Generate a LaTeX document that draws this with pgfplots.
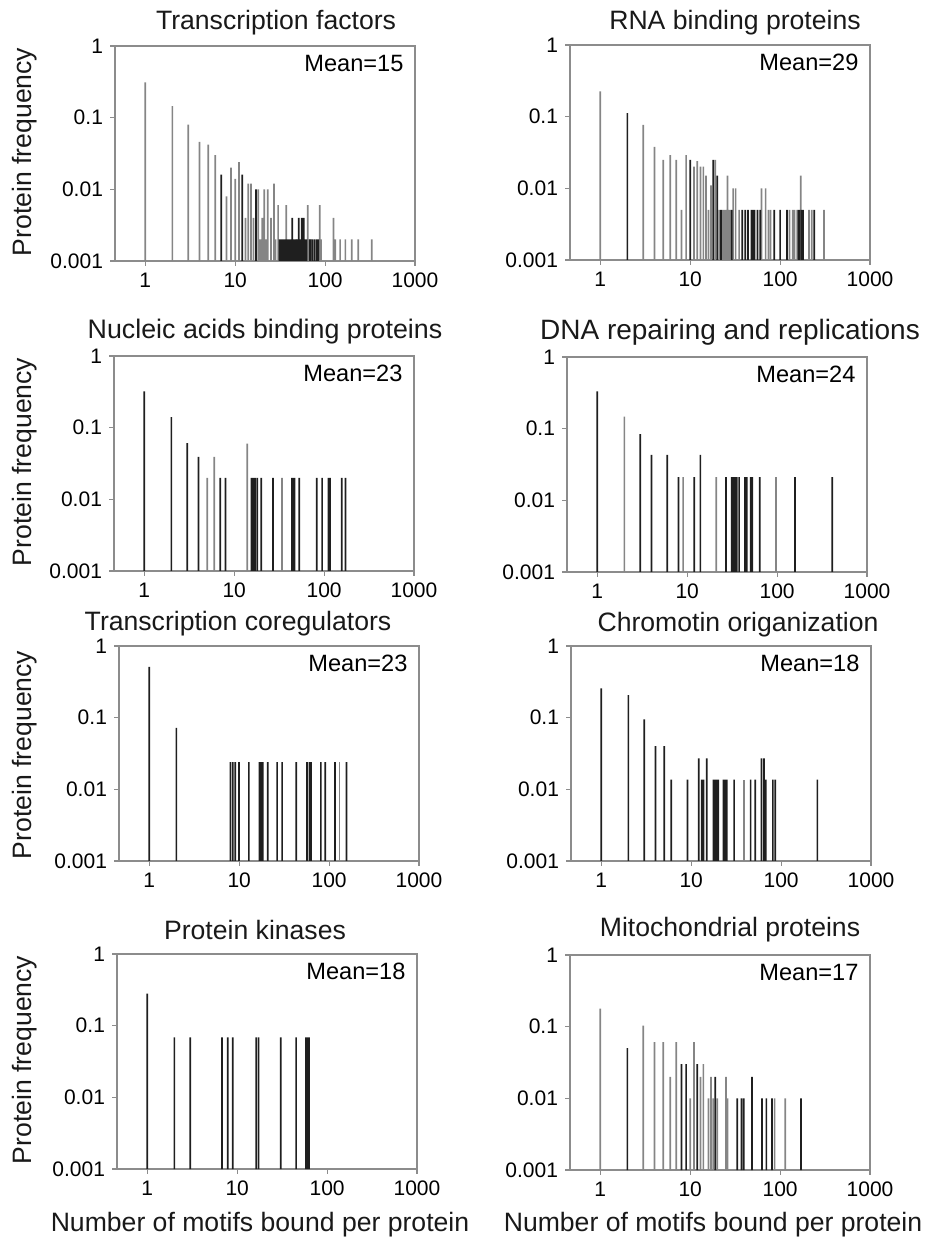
\documentclass[border=0pt]{standalone}
\usepackage{fontspec}
\setmainfont{Liberation Sans}
\usepackage{pgfplots}
\pgfplotsset{compat=1.18}
\definecolor{dk}{gray}{0.12}
\definecolor{lt}{gray}{0.52}
\definecolor{axc}{gray}{0.55}
\newcommand{\meanlabel}[1]{\node[anchor=east, font=\fontsize{11.8}{13}\selectfont] at (rel axis cs:0.985,0.92) {Mean=#1};}
\tikzset{ttl/.style={font=\fontsize{13.3}{15}\selectfont, text=black!90}}
\begin{document}
\begin{tikzpicture}
\useasboundingbox (0,0) rectangle (467.5pt,622.5pt);
% ---------- Row 1 left: Transcription factors
\begin{axis}[width=150pt, height=107.5pt, scale only axis, anchor=south west, at={(57.5pt,492pt)},
  xmode=log, ymode=log, xmin=0.46, xmax=1000, ymin=0.001, ymax=1, log origin=infty,
  xtick={1,10,100,1000}, xticklabels={1,10,100,1000}, ytick={0.001,0.01,0.1,1}, yticklabels={0.001,0.01,0.1,1},
  xminorticks=false, yminorticks=false, tick align=outside, major tick length=2.5pt, tick pos=left,
  axis line style={draw=axc, line width=0.6pt}, major tick style={draw=axc, line width=0.6pt},
  tick label style={font=\fontsize{10.5}{12}\selectfont}]
\addplot[ybar, bar width=0.85pt, fill=lt, draw=none] coordinates {(1,0.31)(2,0.145)(3,0.08)(4,0.046)(5,0.042)(6,0.030)(8,0.008)(9,0.020)(10,0.014)(11,0.024)(13,0.004)(14,0.012)(15,0.012)(16,0.004)(18,0.010)(19,0.002)(20,0.004)(21,0.010)(22,0.002)(23,0.010)(25,0.004)(27,0.012)(28,0.002)(30,0.006)(37,0.006)(48,0.002)(64,0.006)(66,0.002)(70,0.002)(87,0.006)(90,0.002)(124,0.004)(130,0.002)(147,0.002)(168,0.002)(198,0.002)(234,0.002)(330,0.002)};
\addplot[ybar, bar width=0.85pt, fill=dk, draw=none] coordinates {(7,0.016)(12,0.016)(17,0.010)(31,0.002)(32,0.002)(33,0.002)(34,0.002)(35,0.002)(36,0.002)(38,0.002)(39,0.002)(40,0.002)(41,0.002)(42,0.002)(43,0.004)(44,0.002)(45,0.002)(46,0.002)(47,0.002)(49,0.002)(50,0.002)(51,0.004)(52,0.002)(53,0.002)(55,0.004)(56,0.002)(58,0.004)(60,0.002)(62,0.002)(68,0.002)(72,0.002)(76,0.002)(80,0.002)(84,0.002)};
\meanlabel{15}
\end{axis}
% ---------- Row 1 right: RNA binding proteins
\begin{axis}[width=150pt, height=107.5pt, scale only axis, anchor=south west, at={(285pt,492.5pt)},
  xmode=log, ymode=log, xmin=0.46, xmax=1000, ymin=0.001, ymax=1, log origin=infty,
  xtick={1,10,100,1000}, xticklabels={1,10,100,1000}, ytick={0.001,0.01,0.1,1}, yticklabels={0.001,0.01,0.1,1},
  xminorticks=false, yminorticks=false, tick align=outside, major tick length=2.5pt, tick pos=left,
  axis line style={draw=axc, line width=0.6pt}, major tick style={draw=axc, line width=0.6pt},
  tick label style={font=\fontsize{10.5}{12}\selectfont}]
\addplot[ybar, bar width=0.85pt, fill=lt, draw=none] coordinates {(1,0.225)(3,0.077)(4,0.038)(5,0.025)(6,0.029)(7,0.025)(8,0.005)(9,0.029)(11,0.020)(12,0.024)(13,0.020)(14,0.020)(15,0.015)(16,0.005)(17,0.011)(19,0.025)(21,0.005)(23,0.005)(24,0.005)(25,0.005)(26,0.015)(27,0.005)(28,0.005)(30,0.010)(32,0.010)(35,0.005)(62,0.010)(69,0.010)(74,0.005)(78,0.005)(127,0.005)(138,0.005)(145,0.005)(155,0.005)(170,0.015)(210,0.005)(225,0.005)(307,0.005)};
\addplot[ybar, bar width=0.85pt, fill=dk, draw=none] coordinates {(2,0.112)(10,0.025)(18,0.025)(20,0.015)(22,0.005)(29,0.005)(38,0.005)(41,0.005)(44,0.005)(48,0.005)(50,0.005)(52,0.005)(56,0.005)(60,0.005)(86,0.005)(100,0.005)(119,0.005)(160,0.005)(165,0.005)(175,0.005)(180,0.005)(240,0.005)};
\meanlabel{29}
\end{axis}
% ---------- Row 2 left: Nucleic acids binding proteins
\begin{axis}[width=150pt, height=107.5pt, scale only axis, anchor=south west, at={(57pt,337pt)},
  xmode=log, ymode=log, xmin=0.46, xmax=1000, ymin=0.001, ymax=1, log origin=infty,
  xtick={1,10,100,1000}, xticklabels={1,10,100,1000}, ytick={0.001,0.01,0.1,1}, yticklabels={0.001,0.01,0.1,1},
  xminorticks=false, yminorticks=false, tick align=outside, major tick length=2.5pt, tick pos=left,
  axis line style={draw=axc, line width=0.6pt}, major tick style={draw=axc, line width=0.6pt},
  tick label style={font=\fontsize{10.5}{12}\selectfont}]
\addplot[ybar, bar width=0.85pt, fill=lt, draw=none] coordinates {(5,0.02)(6,0.039)(14,0.06)(34,0.02)};
\addplot[ybar, bar width=0.85pt, fill=dk, draw=none] coordinates {(1,0.32)(2,0.14)(3,0.061)(4,0.039)(7,0.02)(8,0.02)(15.6,0.02)(16.3,0.02)(17,0.02)(18,0.02)(20,0.02)(27,0.02)(44,0.02)(45.5,0.02)(47,0.02)(53,0.02)(83,0.02)(95,0.02)(112,0.02)(116,0.02)(157,0.02)(173,0.02)};
\meanlabel{23}
\end{axis}
% ---------- Row 2 right: DNA repairing and replications
\begin{axis}[width=150pt, height=107.5pt, scale only axis, anchor=south west, at={(283.5pt,336.5pt)},
  xmode=log, ymode=log, xmin=0.46, xmax=1000, ymin=0.001, ymax=1, log origin=infty,
  xtick={1,10,100,1000}, xticklabels={1,10,100,1000}, ytick={0.001,0.01,0.1,1}, yticklabels={0.001,0.01,0.1,1},
  xminorticks=false, yminorticks=false, tick align=outside, major tick length=2.5pt, tick pos=left,
  axis line style={draw=axc, line width=0.6pt}, major tick style={draw=axc, line width=0.6pt},
  tick label style={font=\fontsize{10.5}{12}\selectfont}]
\addplot[ybar, bar width=0.85pt, fill=lt, draw=none] coordinates {(2,0.147)(9,0.021)(21,0.021)(97,0.021)};
\addplot[ybar, bar width=0.85pt, fill=dk, draw=none] coordinates {(1,0.33)(3,0.084)(4,0.043)(6,0.043)(8,0.021)(12,0.021)(14,0.043)(27,0.021)(31.3,0.021)(32.7,0.021)(34.1,0.021)(35.6,0.021)(37.8,0.021)(44,0.021)(46,0.021)(51,0.021)(53,0.021)(64,0.021)(158,0.021)(410,0.021)};
\meanlabel{24}
\end{axis}
% ---------- Row 3 left: Transcription coregulators
\begin{axis}[width=150pt, height=107.5pt, scale only axis, anchor=south west, at={(59.5pt,192pt)},
  xmode=log, ymode=log, xmin=0.46, xmax=1000, ymin=0.001, ymax=1, log origin=infty,
  xtick={1,10,100,1000}, xticklabels={1,10,100,1000}, ytick={0.001,0.01,0.1,1}, yticklabels={0.001,0.01,0.1,1},
  xminorticks=false, yminorticks=false, tick align=outside, major tick length=2.5pt, tick pos=left,
  axis line style={draw=axc, line width=0.6pt}, major tick style={draw=axc, line width=0.6pt},
  tick label style={font=\fontsize{10.5}{12}\selectfont}]
\addplot[ybar, bar width=0.85pt, fill=lt, draw=none] coordinates {(130,0.024)};
\addplot[ybar, bar width=0.85pt, fill=dk, draw=none] coordinates {(1,0.51)(2,0.072)(8,0.024)(8.5,0.024)(9.05,0.024)(9.94,0.024)(12.8,0.024)(16.8,0.024)(17.6,0.024)(18.3,0.024)(20.8,0.024)(26.4,0.024)(30,0.024)(43,0.024)(56.9,0.024)(60.3,0.024)(63,0.024)(81,0.024)(90.8,0.024)(116,0.024)(156,0.024)};
\meanlabel{23}
\end{axis}
% ---------- Row 3 right: Chromotin origanization
\begin{axis}[width=150pt, height=107.5pt, scale only axis, anchor=south west, at={(285.5pt,192pt)},
  xmode=log, ymode=log, xmin=0.46, xmax=1000, ymin=0.001, ymax=1, log origin=infty,
  xtick={1,10,100,1000}, xticklabels={1,10,100,1000}, ytick={0.001,0.01,0.1,1}, yticklabels={0.001,0.01,0.1,1},
  xminorticks=false, yminorticks=false, tick align=outside, major tick length=2.5pt, tick pos=left,
  axis line style={draw=axc, line width=0.6pt}, major tick style={draw=axc, line width=0.6pt},
  tick label style={font=\fontsize{10.5}{12}\selectfont}]
\addplot[ybar, bar width=0.85pt, fill=lt, draw=none] coordinates {(38.6,0.0137)};
\addplot[ybar, bar width=0.85pt, fill=dk, draw=none] coordinates {(1,0.256)(2,0.207)(3,0.095)(4,0.040)(5,0.040)(6,0.0137)(9.1,0.0137)(12.1,0.027)(13.1,0.0137)(13.7,0.0137)(14.9,0.027)(17.7,0.0137)(18.5,0.0137)(19.2,0.0137)(20,0.0137)(22.8,0.0137)(23.7,0.0137)(24.8,0.0137)(30,0.0137)(45.8,0.0137)(51.6,0.0137)(60.6,0.027)(64.4,0.027)(67.5,0.0137)(81,0.0137)(86,0.0137)(253,0.0137)};
\meanlabel{18}
\end{axis}
% ---------- Row 4 left: Protein kinases
\begin{axis}[width=150pt, height=107.5pt, scale only axis, anchor=south west, at={(58.5pt,38pt)},
  xmode=log, ymode=log, xmin=0.46, xmax=1000, ymin=0.001, ymax=1, log origin=infty,
  xtick={1,10,100,1000}, xticklabels={1,10,100,1000}, ytick={0.001,0.01,0.1,1}, yticklabels={0.001,0.01,0.1,1},
  xminorticks=false, yminorticks=false, tick align=outside, major tick length=2.5pt, tick pos=left,
  axis line style={draw=axc, line width=0.6pt}, major tick style={draw=axc, line width=0.6pt},
  tick label style={font=\fontsize{10.5}{12}\selectfont}]
\addplot[ybar, bar width=0.85pt, fill=dk, draw=none] coordinates {(1,0.28)(2,0.0685)(3,0.0685)(6.78,0.0685)(7.83,0.0685)(8.9,0.0685)(16.3,0.0685)(17.3,0.0685)(30.5,0.0685)(45.2,0.0685)(58.3,0.0685)(61,0.0685)(63,0.0685)};
\meanlabel{18}
\end{axis}
% ---------- Row 4 right: Mitochondrial proteins
\begin{axis}[width=150pt, height=107.5pt, scale only axis, anchor=south west, at={(285pt,37.5pt)},
  xmode=log, ymode=log, xmin=0.46, xmax=1000, ymin=0.001, ymax=1, log origin=infty,
  xtick={1,10,100,1000}, xticklabels={1,10,100,1000}, ytick={0.001,0.01,0.1,1}, yticklabels={0.001,0.01,0.1,1},
  xminorticks=false, yminorticks=false, tick align=outside, major tick length=2.5pt, tick pos=left,
  axis line style={draw=axc, line width=0.6pt}, major tick style={draw=axc, line width=0.6pt},
  tick label style={font=\fontsize{10.5}{12}\selectfont}]
\addplot[ybar, bar width=0.85pt, fill=lt, draw=none] coordinates {(1,0.178)(3,0.103)(4,0.061)(5,0.061)(6,0.02)(7,0.061)(10,0.01)(11,0.061)(13,0.02)(14,0.03)(16,0.01)(17,0.02)(18,0.01)(20,0.01)(25,0.02)(26,0.01)(86.9,0.01)(114,0.01)};
\addplot[ybar, bar width=0.85pt, fill=dk, draw=none] coordinates {(2,0.05)(8,0.03)(9,0.03)(12,0.03)(19,0.02)(33.4,0.01)(37.2,0.01)(39.5,0.01)(48.7,0.02)(62.9,0.01)(70.3,0.01)(81.1,0.01)(171,0.01)};
\meanlabel{17}
\end{axis}
% ---------- titles
\node[ttl] at (138pt,611pt) {Transcription factors};
\node[ttl] at (367.5pt,611pt) {RNA binding proteins};
\node[ttl, font=\fontsize{13.4}{15}\selectfont] at (132.5pt,456.5pt) {Nucleic acids binding proteins};
\node[ttl, font=\fontsize{14}{16}\selectfont] at (365pt,456.5pt) {DNA repairing and replications};
\node[ttl] at (119pt,310.5pt) {Transcription coregulators};
\node[ttl] at (369pt,310pt) {Chromotin origanization};
\node[ttl] at (127.5pt,157.5pt) {Protein kinases};
\node[ttl] at (365pt,157.5pt) {Mitochondrial proteins};
% ---------- y labels
\node[ttl, rotate=90] at (12.5pt,546.5pt) {Protein frequency};
\node[ttl, rotate=90] at (12.5pt,391.5pt) {Protein frequency};
\node[ttl, rotate=90] at (12.5pt,245pt) {Protein frequency};
\node[ttl, rotate=90] at (12.5pt,92.5pt) {Protein frequency};
% ---------- x labels
\node[ttl] at (130pt,10pt) {Number of motifs bound per protein};
\node[ttl] at (356.5pt,10pt) {Number of motifs bound per protein};
\end{tikzpicture}
\end{document}
